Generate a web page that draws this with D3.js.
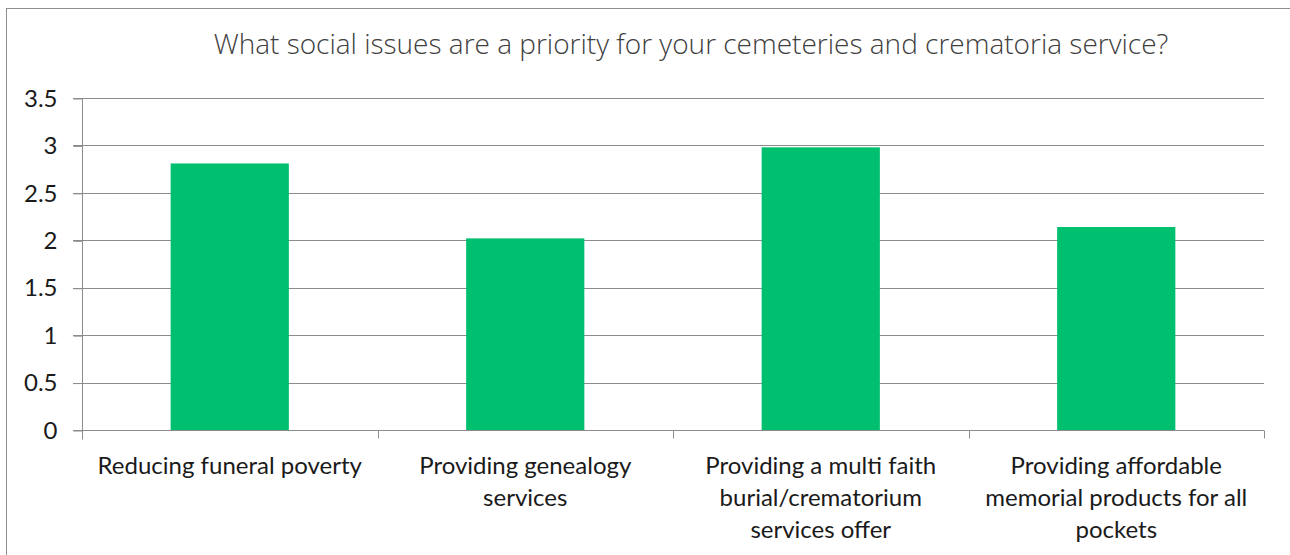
<!DOCTYPE html>
<html>
<head>
<meta charset="utf-8">
<script src="https://cdn.jsdelivr.net/npm/d3@7"></script>
<style>
	body { margin: 0; background: #fff; }
	svg { display: block; }
</style>
</head>
<body>
<div id="content"></div>
<script>
// chart data
var title = 'What social issues are a priority for your cemeteries and crematoria service?';
var categories = [
	'Reducing funeral poverty',
	'Providing genealogy\nservices',
	'Providing a multi faith\nburial/crematorium\nservices offer',
	'Providing affordable\nmemorial products for all\npockets'
];
var values = [2.81, 2.02, 2.98, 2.14];
var yTicks = [0, 0.5, 1, 1.5, 2, 2.5, 3, 3.5];

var W = 1290, H = 555;
var plotL = 82, plotR = 1264, plotT = 98, plotB = 430;

function drawChart()
{
	var svg = d3.select('#content').append('svg')
		.attr('width', W).attr('height', H);

	// outer chart border
	svg.append('rect')
		.attr('x', 6.5).attr('y', 8.5)
		.attr('width', W + 20).attr('height', H + 20)
		.attr('fill', 'none').attr('stroke', '#8e8e8e').attr('stroke-width', 1);

	svg.append('text')
		.attr('x', 691).attr('y', 54)
		.attr('text-anchor', 'middle')
		.attr('font-family', '"Open Sans", "Noto Sans", sans-serif')
		.attr('font-weight', 300)
		.attr('font-size', 28)
		.attr('fill', '#404040')
		.text(title);

	var x = d3.scaleBand().domain(categories).range([plotL, plotR]).paddingInner(0.6).paddingOuter(0.3);
	var xb = d3.scaleBand().domain(categories).range([plotL, plotR]);
	var y = d3.scaleLinear().domain([0, 3.5]).range([plotB, plotT]);

	// grid lines
	svg.append('g').selectAll('line').data(yTicks.filter(d => d > 0)).enter().append('line')
		.attr('x1', plotL - 9).attr('x2', plotR)
		.attr('y1', d => Math.round(y(d)) + 0.5).attr('y2', d => Math.round(y(d)) + 0.5)
		.attr('stroke', '#8c8c8c').attr('stroke-width', 1);

	// bars
	svg.append('g').selectAll('rect').data(values).enter().append('rect')
		.attr('x', (d, i) => x(categories[i]))
		.attr('width', x.bandwidth())
		.attr('y', d => y(d))
		.attr('height', d => plotB - y(d))
		.attr('fill', '#00bf6f');

	// y axis
	var yAxis = svg.append('g').attr('transform', 'translate(' + (plotL + 0.5) + ',0.5)')
		.call(d3.axisLeft(y).tickValues(yTicks).tickSize(9).tickPadding(16).tickFormat(d3.format('')));
	yAxis.select('.domain').attr('stroke', '#8c8c8c').attr('d', 'M0,' + (plotT - 0.5) + 'V' + (plotB + 9));
	yAxis.selectAll('.tick line').attr('stroke', '#8c8c8c');
	yAxis.selectAll('.tick text')
		.attr('font-family', 'Lato, "Open Sans", sans-serif')
		.attr('font-size', 24).attr('fill', '#1a1a1a');

	// x axis
	var xAxis = svg.append('g').attr('transform', 'translate(0,' + (plotB + 0.5) + ')');
	xAxis.append('line').attr('x1', plotL - 9).attr('x2', plotR).attr('y1', 0).attr('y2', 0)
		.attr('stroke', '#8c8c8c');
	var bounds = categories.map(c => xb(c)).concat([plotR]);
	xAxis.selectAll('.tickmark').data(bounds).enter().append('line')
		.attr('x1', d => Math.round(d) + 0.5).attr('x2', d => Math.round(d) + 0.5)
		.attr('y1', 0).attr('y2', 8)
		.attr('stroke', '#8c8c8c');

	var labels = xAxis.selectAll('.lab').data(categories).enter().append('text')
		.attr('text-anchor', 'middle')
		.attr('font-family', 'Lato, "Open Sans", sans-serif')
		.attr('font-size', 24)
		.attr('fill', '#1a1a1a');
	labels.each(function(c) {
		var t = d3.select(this);
		c.split('\n').forEach((line, k) => {
			t.append('tspan')
				.attr('x', xb(c) + xb.bandwidth() / 2)
				.attr('y', 43 + k * 32)
				.text(line);
		});
	});
}

drawChart();
</script>
</body>
</html>
